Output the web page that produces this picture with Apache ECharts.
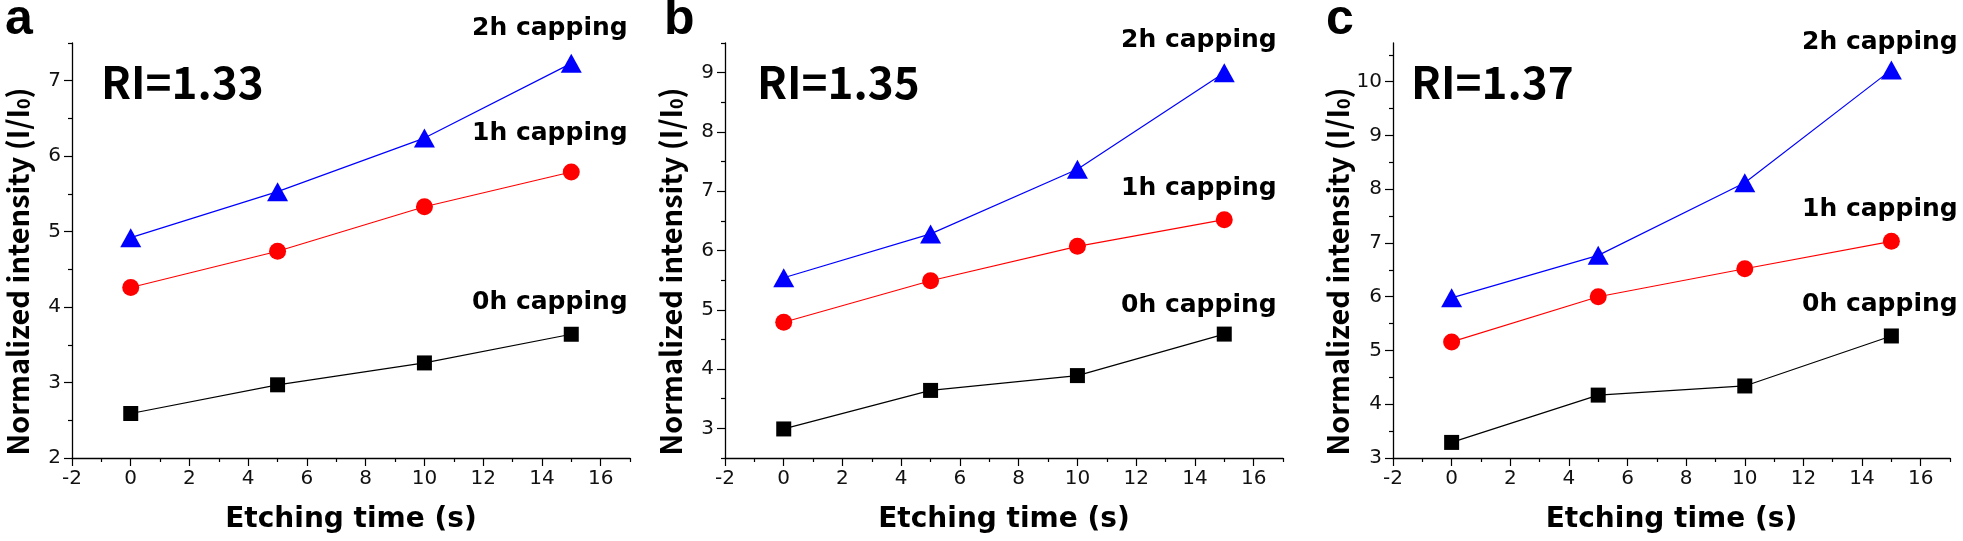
<!DOCTYPE html>
<html>
<head>
<meta charset="utf-8">
<script src="https://cdn.jsdelivr.net/npm/echarts@6/dist/echarts.min.js"></script>
<style>
html,body{margin:0;padding:0;background:#fff;}
#chart{width:1963px;height:541px;}
</style>
</head>
<body>
<div id="chart"></div>
<script>
// ---------- data ----------
const etchTime = [0, 5, 10, 15];
const seriesNames = ['0h capping', '1h capping', '2h capping'];
const panelLetters = ['a', 'b', 'c'];
const riLabels = ['RI=1.33', 'RI=1.35', 'RI=1.37'];

const a0h = [2.59, 2.97, 3.26, 3.64];
const a1h = [4.26, 4.74, 5.33, 5.79];
const a2h = [4.92, 5.53, 6.24, 7.23];

const b0h = [2.99, 3.64, 3.89, 4.59];
const b1h = [4.79, 5.49, 6.07, 6.52];
const b2h = [5.54, 6.28, 7.37, 9.00];

const c0h = [3.29, 4.17, 4.34, 5.27];
const c1h = [5.16, 6.00, 6.52, 7.03];
const c2h = [5.98, 6.77, 8.12, 10.22];

const xMajorTicks = [-2, 0, 2, 4, 6, 8, 10, 12, 14, 16];
const xMinorTicks = [-1, 1, 3, 5, 7, 9, 11, 13, 15, 17];
const xRange = [-2, 17];

const aYMajor = [2, 3, 4, 5, 6, 7];
const aYMinor = [2.5, 3.5, 4.5, 5.5, 6.5, 7.5];
const aYRange = [2, 7.5];
const bYMajor = [3, 4, 5, 6, 7, 8, 9];
const bYMinor = [2.5, 3.5, 4.5, 5.5, 6.5, 7.5, 8.5, 9.5];
const bYRange = [2.5, 9.5];
const cYMajor = [3, 4, 5, 6, 7, 8, 9, 10];
const cYMinor = [3.5, 4.5, 5.5, 6.5, 7.5, 8.5, 9.5, 10.5];
const cYRange = [3, 10.72];

const xTitle = 'Etching time (s)';
const yTitle = 'Normalized intensity (I/I{sub|0})';

// ---------- layout / styles ----------
const panels = [
  { data: [a0h, a1h, a2h], yMajor: aYMajor, yMinor: aYMinor, yRange: aYRange,
    grid: { left: 72, top: 43, width: 558, height: 415 },
    letterX: 5, riX: 101, capX: 472, capY: [302, 133, 28] },
  { data: [b0h, b1h, b2h], yMajor: bYMajor, yMinor: bYMinor, yRange: bYRange,
    grid: { left: 725, top: 43, width: 558, height: 415 },
    letterX: 664, riX: 757, capX: 1121, capY: [305, 188, 40] },
  { data: [c0h, c1h, c2h], yMajor: cYMajor, yMinor: cYMinor, yRange: cYRange,
    grid: { left: 1393, top: 43, width: 557, height: 415 },
    letterX: 1326, riX: 1411, capX: 1802, capY: [304, 209, 42] }
];

const colors = ['#000000', '#ff0000', '#0000ff'];
const symbols = ['rect', 'circle', 'triangle'];
const symbolSizes = [15, 17, [21, 19]];

const tickFont = { fontFamily: 'DejaVu Sans', fontSize: 20, color: '#111111' };
const axisColor = '#000';

const grids = [], xAxes = [], yAxes = [], series = [], graphics = [];

panels.forEach((p, pi) => {
  grids.push(Object.assign({ outerBoundsMode: 'none', containLabel: false }, p.grid));
  // main x axis
  xAxes.push({
    type: 'value', gridIndex: pi, position: 'bottom', min: xRange[0], max: xRange[1],
    axisLine: { show: true, onZero: false, lineStyle: { color: axisColor, width: 1.3 } },
    axisTick: { show: true, customValues: xMajorTicks, length: 8, lineStyle: { color: axisColor, width: 1.2 } },
    axisLabel: Object.assign({ customValues: xMajorTicks, margin: 11 }, tickFont),
    splitLine: { show: false },
    name: xTitle, nameLocation: 'middle', nameGap: 48,
    nameTextStyle: { fontFamily: 'DejaVu Sans', fontWeight: 'bold', fontSize: 28, color: '#000' }
  });
  // minor x ticks
  xAxes.push({
    type: 'value', gridIndex: pi, position: 'bottom', min: xRange[0], max: xRange[1],
    axisLine: { show: false, onZero: false },
    axisTick: { show: true, customValues: xMinorTicks, length: 4, lineStyle: { color: axisColor, width: 1.2 } },
    axisLabel: { show: false }, splitLine: { show: false }
  });
  // main y axis
  yAxes.push({
    type: 'value', gridIndex: pi, position: 'left', min: p.yRange[0], max: p.yRange[1],
    axisLine: { show: true, onZero: false, lineStyle: { color: axisColor, width: 1.3 } },
    axisTick: { show: true, customValues: p.yMajor, length: 8, lineStyle: { color: axisColor, width: 1.2 } },
    axisLabel: Object.assign({ customValues: p.yMajor, margin: 11 }, tickFont),
    splitLine: { show: false },
    name: yTitle, nameLocation: 'middle', nameGap: 40,
    nameTextStyle: {
      fontFamily: 'Noto Sans CJK KR', fontWeight: 'bold', fontSize: 29, color: '#000',
      padding: [0, 42, 0, 0],
      rich: { sub: { fontFamily: 'Noto Sans CJK KR', fontWeight: 'bold', fontSize: 18, color: '#000', verticalAlign: 'bottom' } }
    }
  });
  // minor y ticks
  yAxes.push({
    type: 'value', gridIndex: pi, position: 'left', min: p.yRange[0], max: p.yRange[1],
    axisLine: { show: false, onZero: false },
    axisTick: { show: true, customValues: p.yMinor, length: 4, lineStyle: { color: axisColor, width: 1.2 } },
    axisLabel: { show: false }, splitLine: { show: false }
  });

  p.data.forEach((vals, si) => {
    series.push({
      type: 'line', name: panelLetters[pi] + ' ' + seriesNames[si],
      xAxisIndex: pi * 2, yAxisIndex: pi * 2,
      data: etchTime.map((t, i) => [t, vals[i]]),
      symbol: symbols[si], symbolSize: symbolSizes[si], showSymbol: true,
      lineStyle: { color: colors[si], width: 1.2 },
      itemStyle: { color: colors[si] },
      z: 3 + si
    });
  });

  // panel letter
  graphics.push({ type: 'text', x: p.letterX, y: 20, style: {
    text: panelLetters[pi], fontFamily: 'Liberation Sans', fontWeight: 'bold', fontSize: 50,
    fill: '#000', align: 'left', verticalAlign: 'middle' } });
  // RI label
  graphics.push({ type: 'text', x: p.riX, y: 82, style: {
    text: riLabels[pi], fontFamily: 'Noto Sans CJK KR', fontWeight: 'bold', fontSize: 44,
    fill: '#000', align: 'left', verticalAlign: 'middle' } });
  // series labels
  seriesNames.forEach((nm, si) => {
    graphics.push({ type: 'text', x: p.capX, y: p.capY[si], style: {
      text: nm, fontFamily: 'DejaVu Sans', fontWeight: 'bold', fontSize: 25,
      fill: '#000', align: 'left', verticalAlign: 'middle' } });
  });
});

const chart = echarts.init(document.getElementById('chart'), null, { renderer: 'canvas' });
chart.setOption({
  animation: false,
  backgroundColor: '#ffffff',
  grid: grids,
  xAxis: xAxes,
  yAxis: yAxes,
  series: series,
  graphic: graphics
});
</script>
</body>
</html>
